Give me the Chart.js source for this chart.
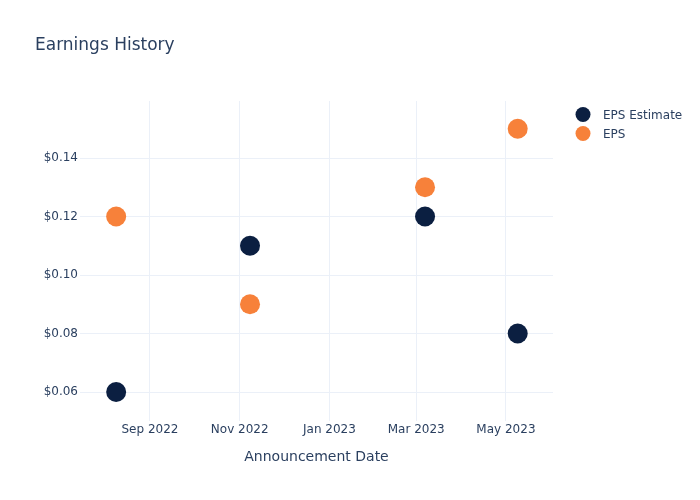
<!DOCTYPE html>
<html>
<head>
<meta charset="utf-8">
<script src="https://cdn.jsdelivr.net/npm/chart.js@4"></script>
<style>
html,body{margin:0;padding:0;background:#fff;}
#wrap{width:700px;height:500px;position:relative;}
</style>
</head>
<body>
<div id="wrap"><canvas id="c" width="700" height="500"></canvas></div>
<script>
const dates = ["2022-08-09", "2022-11-08", "2023-03-07", "2023-05-09"];
const epsEstimate = [0.06, 0.11, 0.12, 0.08];
const eps = [0.12, 0.09, 0.13, 0.15];
const xTickDates = ["2022-09-01", "2022-11-01", "2023-01-01", "2023-03-01", "2023-05-01"];
const yTicks = [0.06, 0.08, 0.10, 0.12, 0.14];
const xRange = ["2022-07-15T10:00:00", "2023-06-02"];
const yRange = [0.0501, 0.1595];
const seriesNames = ["EPS Estimate", "EPS"];
const seriesColors = ["#0b1f41", "#f7813a"];
const titleText = "Earnings History";
const xTitle = "Announcement Date";

const MONTHS = ["Jan","Feb","Mar","Apr","May","Jun","Jul","Aug","Sep","Oct","Nov","Dec"];
const ts = s => Date.parse(s.length === 10 ? s + "T00:00:00Z" : s + "Z");
const FONT = "'DejaVu Sans', Verdana, sans-serif";
const TXT = "#2a3f5f";
const GRID = "#ebf0f8";

const overlay = {
  id: "overlay",
  afterDraw(chart) {
    const ctx = chart.ctx;
    ctx.save();
    ctx.fillStyle = TXT;
    ctx.font = "17px " + FONT;
    ctx.textBaseline = "alphabetic";
    ctx.textAlign = "left";
    ctx.fillText(titleText, 35, 50);
    ctx.font = "12px " + FONT;
    ctx.textBaseline = "middle";
    seriesNames.forEach((n, i) => {
      const y = 114.5 + i * 19;
      ctx.beginPath();
      ctx.fillStyle = seriesColors[i];
      ctx.arc(583, y, 7.5, 0, Math.PI * 2);
      ctx.fill();
      ctx.fillStyle = TXT;
      ctx.fillText(n, 603, y + 1);
    });
    ctx.restore();
  }
};

new Chart(document.getElementById("c"), {
  type: "scatter",
  data: {
    datasets: [
      { label: seriesNames[0], data: dates.map((d, i) => ({ x: ts(d), y: epsEstimate[i] })),
        backgroundColor: seriesColors[0], borderWidth: 0, pointRadius: 10, pointHoverRadius: 10 },
      { label: seriesNames[1], data: dates.map((d, i) => ({ x: ts(d), y: eps[i] })),
        backgroundColor: seriesColors[1], borderWidth: 0, pointRadius: 10, pointHoverRadius: 10 }
    ]
  },
  options: {
    responsive: false,
    animation: false,
    layout: { padding: { top: 101, right: 147, left: 0, bottom: 30 } },
    plugins: { legend: { display: false }, title: { display: false }, tooltip: { enabled: false } },
    scales: {
      x: {
        type: "linear",
        min: ts(xRange[0]), max: ts(xRange[1]),
        afterBuildTicks: s => { s.ticks = xTickDates.map(d => ({ value: ts(d) })); },
        afterFit: s => { s.height = 49; },
        ticks: {
          color: TXT, font: { family: FONT, size: 12 }, padding: 2, maxRotation: 0, autoSkip: false,
          callback: v => { const d = new Date(v); return MONTHS[d.getUTCMonth()] + " " + d.getUTCFullYear(); }
        },
        grid: { color: GRID, drawTicks: false, lineWidth: 1 },
        border: { display: false },
        title: { display: true, text: xTitle, color: TXT, font: { family: FONT, size: 14 }, padding: { top: 11 } }
      },
      y: {
        min: yRange[0], max: yRange[1],
        afterBuildTicks: s => { s.ticks = yTicks.map(v => ({ value: v })); },
        afterFit: s => { s.width = 80; },
        ticks: {
          color: TXT, font: { family: FONT, size: 12 }, padding: 2,
          callback: v => "$" + v.toFixed(2)
        },
        grid: { color: GRID, drawTicks: false, lineWidth: 1 },
        border: { display: false }
      }
    }
  },
  plugins: [overlay]
});
</script>
</body>
</html>
